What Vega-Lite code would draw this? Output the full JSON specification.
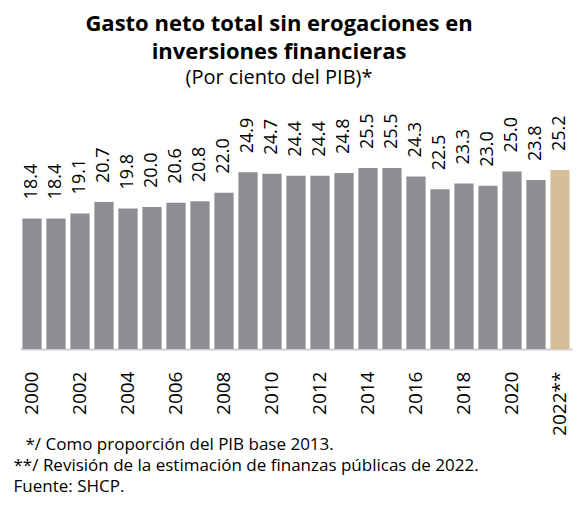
{
  "$schema": "https://vega.github.io/schema/vega-lite/v6.json",
  "width": 552,
  "height": 230,
  "autosize": {"type": "none"},
  "padding": {"left": 20, "top": 119, "right": 7, "bottom": 182},
  "background": "white",
  "title": {
    "text": ["Gasto neto total sin erogaciones en", "inversiones financieras"],
    "subtitle": "(Por ciento del PIB)*",
    "anchor": "middle",
    "frame": "group",
    "dx": -17,
    "offset": 24,
    "font": "Open Sans",
    "fontSize": 22,
    "fontWeight": "bold",
    "color": "#000000",
    "lineHeight": 28,
    "subtitleFont": "Open Sans",
    "subtitleFontSize": 20,
    "subtitleColor": "#000000",
    "subtitlePadding": 4
  },
  "data": {
    "values": [
      {"anio": "2000", "valor": 18.4, "tipo": "hist"},
      {"anio": "2001", "valor": 18.4, "tipo": "hist"},
      {"anio": "2002", "valor": 19.1, "tipo": "hist"},
      {"anio": "2003", "valor": 20.7, "tipo": "hist"},
      {"anio": "2004", "valor": 19.8, "tipo": "hist"},
      {"anio": "2005", "valor": 20.0, "tipo": "hist"},
      {"anio": "2006", "valor": 20.6, "tipo": "hist"},
      {"anio": "2007", "valor": 20.8, "tipo": "hist"},
      {"anio": "2008", "valor": 22.0, "tipo": "hist"},
      {"anio": "2009", "valor": 24.9, "tipo": "hist"},
      {"anio": "2010", "valor": 24.7, "tipo": "hist"},
      {"anio": "2011", "valor": 24.4, "tipo": "hist"},
      {"anio": "2012", "valor": 24.4, "tipo": "hist"},
      {"anio": "2013", "valor": 24.8, "tipo": "hist"},
      {"anio": "2014", "valor": 25.5, "tipo": "hist"},
      {"anio": "2015", "valor": 25.5, "tipo": "hist"},
      {"anio": "2016", "valor": 24.3, "tipo": "hist"},
      {"anio": "2017", "valor": 22.5, "tipo": "hist"},
      {"anio": "2018", "valor": 23.3, "tipo": "hist"},
      {"anio": "2019", "valor": 23.0, "tipo": "hist"},
      {"anio": "2020", "valor": 25.0, "tipo": "hist"},
      {"anio": "2021", "valor": 23.8, "tipo": "hist"},
      {"anio": "2022**", "valor": 25.2, "tipo": "est"}
    ]
  },
  "encoding": {
    "x": {
      "field": "anio",
      "type": "ordinal",
      "sort": null,
      "scale": {"paddingInner": 0.2, "paddingOuter": 0.1},
      "axis": {
        "values": ["2000", "2002", "2004", "2006", "2008", "2010", "2012", "2014", "2016", "2018", "2020", "2022**"],
        "labelAngle": -90,
        "labelAlign": "right",
        "labelBaseline": "middle",
        "labelPadding": 22,
        "labelFont": "Open Sans",
        "labelFontSize": 19,
        "labelColor": "#000000",
        "labelOverlap": false,
        "ticks": false,
        "domainColor": "#d0d0d0",
        "domainWidth": 2,
        "title": [
          "\u2800*/ Como proporción del PIB base 2013.",
          "**/ Revisión de la estimación de finanzas públicas de 2022.",
          "Fuente: SHCP."
        ],
        "titleFont": "Open Sans",
        "titleFontSize": 17,
        "titleFontWeight": "normal",
        "titleColor": "#000000",
        "titleAnchor": "start",
        "titleAlign": "left",
        "titleBaseline": "top",
        "titleLineHeight": 21,
        "titleX": -7,
        "titleY": 87
      }
    },
    "y": {
      "field": "valor",
      "type": "quantitative",
      "scale": {"domain": [0, 32.4]},
      "axis": null
    }
  },
  "layer": [
    {
      "mark": {"type": "bar"},
      "encoding": {
        "color": {
          "field": "tipo",
          "type": "nominal",
          "scale": {"domain": ["hist", "est"], "range": ["#8e8d92", "#d4bf98"]},
          "legend": null
        }
      }
    },
    {
      "mark": {
        "type": "text",
        "angle": 270,
        "align": "left",
        "baseline": "middle",
        "dx": 19,
        "font": "Open Sans",
        "fontSize": 18,
        "color": "#000000"
      },
      "encoding": {
        "text": {"field": "valor", "type": "quantitative", "format": ".1f"}
      }
    }
  ],
  "config": {"view": {"stroke": null}}
}
